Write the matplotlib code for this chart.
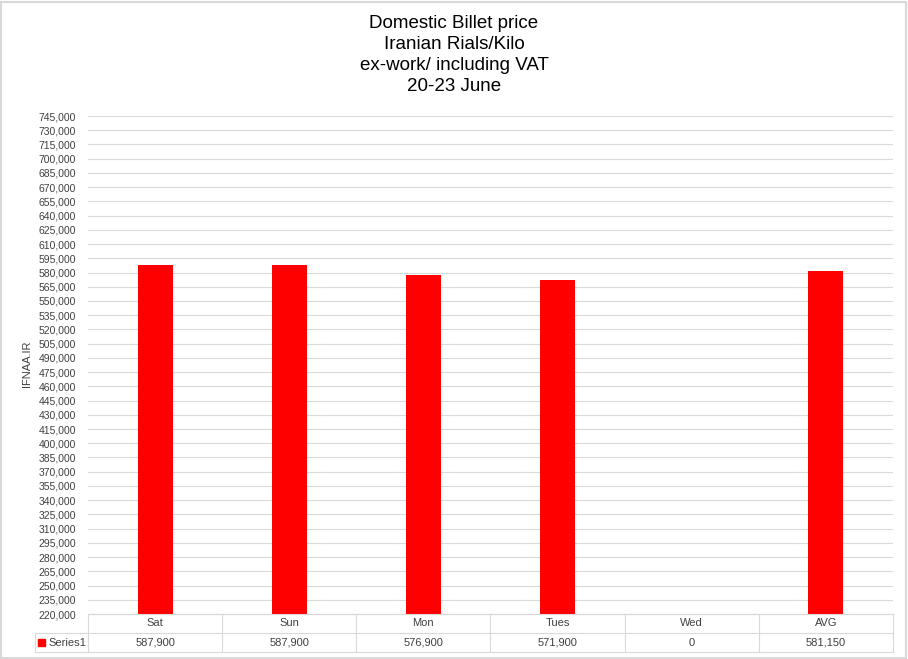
import numpy as np
import matplotlib
matplotlib.use("Agg")
import matplotlib.pyplot as plt
from matplotlib.patches import Rectangle
from matplotlib.lines import Line2D

# chart data
days = ["Sat", "Sun", "Mon", "Tues", "Wed", "AVG"]
prices = [587900, 587900, 576900, 571900, 0, 581150]
series_name = "Series1"
title_lines = ["Domestic Billet price", "Iranian Rials/Kilo",
               "ex-work/ including VAT", "20-23 June"]
y_min, y_max, y_step = 220000, 745000, 15000

W, H = 908, 659
fig = plt.figure(figsize=(W / 100, H / 100), dpi=100)
plt.rcParams["font.family"] = ["Liberation Sans", "DejaVu Sans"]

# plot area in pixels
left, right, top, bottom = 88, 893, 116, 614
ax = fig.add_axes([left / W, (H - bottom) / H, (right - left) / W, (bottom - top) / H])

x = np.arange(len(days))
ax.bar(x, prices, width=0.26, color="#ff0000", zorder=3)
ax.set_xlim(-0.5, len(days) - 0.5)
ax.set_ylim(y_min, y_max)
ticks = np.arange(y_min, y_max + 1, y_step)
ax.set_yticks(ticks)
ax.set_yticklabels([f"{t:,}" for t in ticks], fontsize=7.5, color="#404040")
ax.tick_params(axis="y", length=0, pad=8.5)
ax.set_xticks([])
ax.grid(axis="y", color="#d9d9d9", linewidth=0.8, zorder=0)
for s in ["top", "right", "left"]:
    ax.spines[s].set_visible(False)
ax.spines["bottom"].set_color("#d9d9d9")

fig.text(27 / W, (H - 364) / H, "IFNAA.IR", rotation=90, ha="center", va="center",
         fontsize=8, color="#404040")

fig.suptitle("\n".join(title_lines), y=(H - 15) / H, fontsize=13.5,
             linespacing=1.3, color="#000000", va="top")

# data table below the plot
def fx(px):
    return px / W

def fy(py):
    return (H - py) / H

row1_top, row1_bot, row2_bot = 614, 633, 652
legend_left = 35
cell_w = (right - left) / len(days)
line_kw = dict(color="#d9d9d9", linewidth=0.8, transform=fig.transFigure)
fig.add_artist(Line2D([fx(left), fx(right)], [fy(row1_top)] * 2, **line_kw))
fig.add_artist(Line2D([fx(legend_left), fx(right)], [fy(row1_bot)] * 2, **line_kw))
fig.add_artist(Line2D([fx(legend_left), fx(right)], [fy(row2_bot)] * 2, **line_kw))
fig.add_artist(Line2D([fx(legend_left)] * 2, [fy(row1_bot), fy(row2_bot)], **line_kw))
for i in range(len(days) + 1):
    xp = left + i * cell_w
    fig.add_artist(Line2D([fx(xp)] * 2, [fy(row1_top), fy(row2_bot)], **line_kw))

for i, (d, p) in enumerate(zip(days, prices)):
    cx = left + (i + 0.5) * cell_w
    fig.text(fx(cx), fy((row1_top + row1_bot) / 2), d, ha="center", va="center",
             fontsize=8, color="#404040")
    fig.text(fx(cx), fy((row1_bot + row2_bot) / 2), f"{p:,}", ha="center", va="center",
             fontsize=8, color="#404040")

fig.add_artist(Rectangle((fx(38), fy(646)), 7 / W, 7 / H, color="#ff0000",
                         transform=fig.transFigure))
fig.text(fx(48), fy((row1_bot + row2_bot) / 2), series_name, ha="left", va="center",
         fontsize=8, color="#404040")

# chart border
fig.add_artist(Rectangle((1 / W, 1 / H), (W - 3) / W, (H - 3) / H, fill=False,
                         edgecolor="#d9d9d9", linewidth=1.5, transform=fig.transFigure))

fig.savefig("out.png", dpi=100)
